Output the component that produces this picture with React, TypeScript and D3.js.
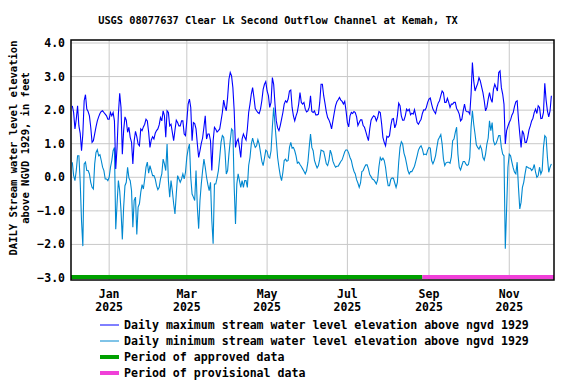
import * as d3 from "d3";

const title = "USGS 08077637 Clear Lk Second Outflow Channel at Kemah, TX";
const yLabelLines = ["DAILY Stream water level elevation", "above NGVD 1929, in feet"];

// daily values, one per day starting at firstDay
const firstDay = "2024-12-04";
const dailyMax = [
  2.13, 1.93, 1.44, 1.73, 2.13, 1.53, 1.31, 0.79, 1.29, 2.28,
  2.46, 2.03, 1.96, 1.83, 1.49, 1.04, 1.09, 1.29, 1.5, 1.68,
  1.8, 1.9, 1.96, 1.98, 1.93, 1.88, 1.83, 1.73, 1.73, 1.93,
  1.83, 1.93, 1.68, 0.25, 0.89, 1.88, 2.5, 2.08, 0.69, 1.39,
  1.8, 1.7, 1.34, 1.49, 1.19, 1.04, 0.4, 1.09, 1.37, 1.21,
  0.99, 0.94, 1.44, 1.39, 1.5, 1.58, 1.73, 1.68, 1.34, 0.89,
  1.11, 1.21, 1.14, 1.31, 1.39, 1.44, 1.56, 1.78, 1.68, 1.98,
  1.83, 1.19, 1.98, 1.93, 1.53, 1.58, 1.34, 1.09, 1.41, 1.7,
  1.63, 1.53, 1.53, 1.68, 1.68, 1.29, 1.24, 1.68, 2.18, 2.33,
  2.08, 1.09, 1.63, 1.6, 1.44, 0.99, 0.59, 0.79, 1.01, 1.17,
  1.49, 1.83, 1.14, 1.29, 1.29, 1.09, 0.2, 1.09, 1.49, 1.43,
  1.35, 1.39, 1.44, 1.68, 1.93, 2.3, 2.1, 1.98, 2.38, 2.92,
  3.12, 3.02, 2.67, 1.98, 0.89, 1.07, 1.14, 0.89, 0.59, 1.14,
  1.29, 1.19, 1.11, 1.44, 1.93, 2.18, 2.48, 2.67, 2.38, 2.05,
  1.98, 1.93, 1.9, 2.03, 2.28, 2.62, 2.77, 2.85, 2.57, 2.43,
  2.08, 2.23, 2.97, 2.77, 2.18, 1.68, 1.47, 1.39, 1.54, 1.73,
  1.93, 2.18, 2.28, 2.23, 2.33, 2.57, 2.6, 2.08, 1.83, 1.68,
  1.83, 1.95, 2.18, 2.52, 2.23, 2.18, 2.23, 2.03, 1.95, 1.98,
  2.08, 2.43, 1.96, 1.93, 1.98, 1.86, 1.86, 1.88, 2.23, 2.77,
  2.77, 2.43, 2.2, 1.95, 1.78, 1.71, 1.6, 1.44, 1.68, 1.91,
  2.13, 2.25, 2.31, 2.38, 2.3, 2.26, 2.18, 2.26, 1.98, 1.63,
  1.5, 1.83, 1.93, 1.9, 1.96, 1.93, 1.8, 1.54, 1.63, 1.71,
  1.71, 1.54, 1.49, 1.36, 1.22, 1.09, 1.44, 1.7, 1.78, 1.83,
  1.8, 1.68, 1.78, 1.96, 1.93, 1.6, 1.19, 1.04, 0.94, 1.22,
  1.19, 1.24, 1.54, 1.73, 1.75, 1.47, 1.58, 1.83, 2.21, 2.13,
  1.83, 1.7, 1.7, 1.83, 2.03, 1.98, 2.03, 1.86, 1.91, 1.88,
  2.01, 1.83, 1.63, 1.58, 1.66, 1.73, 1.9, 2.01, 2.0, 2.08,
  2.23, 2.33, 2.36, 2.18, 2.03, 1.96, 1.9, 2.08, 2.21, 2.28,
  2.43, 2.57, 2.52, 2.23, 2.23, 2.35, 2.23, 2.08, 2.18, 2.18,
  2.23, 2.23, 2.05, 1.98, 1.88, 1.68, 1.73, 1.98, 2.18, 1.98,
  1.95, 1.95, 1.88, 2.48, 3.42, 2.87, 2.57, 2.69, 2.79, 2.97,
  2.87, 2.69, 2.52, 2.28, 1.98, 2.08, 2.33, 2.52, 2.33, 2.23,
  2.62, 2.77, 2.67, 2.57, 3.12, 3.17, 2.67, 2.48, 2.18, 0.99,
  1.39, 1.52, 1.63, 1.71, 1.85, 1.93, 2.11, 2.25, 2.28, 1.73,
  1.29, 0.89, 1.39, 1.29, 1.04, 1.04, 1.19, 1.41, 1.53, 1.68,
  1.76, 1.93, 2.03, 1.9, 2.13, 2.08, 1.75, 1.76, 1.93, 2.8,
  2.3, 1.98, 1.8, 1.98, 2.43,
];
const dailyMin = [
  0.45, 0.05, -0.1, 0.2, 0.64, 0.64, -0.15, -1.3, -2.05, 0.4,
  0.45, 0.2, 0.2, 0.1, -0.15, -0.3, -0.35, 0.4, 0.74, 0.82,
  0.64, 0.67, 0.5, 0.3, 0.2, -0.05, -0.05, -0.1, 0.0, 0.3,
  0.5, 0.79, 0.89, -1.55, -0.79, -0.1, -0.4, -0.99, -1.85, -0.89,
  -0.25, -0.15, 0.3, -0.02, -0.1, -0.4, -1.49, -0.69, -0.59, -1.7,
  -0.89, -0.79, -0.45, -0.22, -0.35, -0.05, 0.3, 0.45, 0.12, 0.35,
  0.2, 0.05, 0.05, -0.05, -0.25, -0.37, -0.3, -0.05, 0.1, 0.54,
  0.4, 0.2, 0.99, -0.1, -0.59, -0.1, -0.4, -0.79, -1.09, -0.5,
  0.05, -0.05, -0.15, -0.05, 0.1, -0.05, 0.15, 0.6, 0.84, 0.99,
  0.0, -0.5, -0.59, -0.69, 0.2, -0.89, -1.53, -0.69, -0.2, 0.2,
  0.54, 0.3, 0.0, -0.22, -0.4, -0.15, -1.29, -1.98, -0.2, -0.2,
  -0.02, 0.2, 0.59, 1.04, 1.24, 1.19, 0.79, 0.1, 0.2, 0.69,
  1.09, 1.44, 1.39, -0.3, -1.39, -0.2, 0.1, -0.1, -0.3, -0.1,
  -0.3, -0.1, -0.1, -0.3, 0.35, 0.59, 0.99, 1.17, 1.01, 0.89,
  0.94, 1.12, 0.99, 0.74, 0.48, 0.35, 0.57, 0.81, 0.77, 0.61,
  0.57, 0.79, 1.49, 2.08, 1.58, 1.09, 0.59, 0.3, 0.05, -0.1,
  0.15, 0.5, 0.54, 0.48, 0.5, 0.89, 1.04, 0.87, 0.89, 0.79,
  0.64, 0.42, 0.45, 0.38, 0.32, 0.25, 0.18, 0.1, 0.2, 0.45,
  0.89, 1.29, 0.89, 0.79, 0.5, 0.38, 0.28, 0.35, 0.54, 0.81,
  0.79, 0.77, 0.59, 0.4, 0.35, 0.5, 0.81, 0.69, 0.48, 0.38,
  0.3, 0.33, 0.33, 0.4, 0.47, 0.52, 0.64, 0.76, 0.82, 0.81,
  0.72, 0.59, 0.5, 0.32, 0.18, 0.1, -0.07, -0.17, -0.3, -0.17,
  0.17, 0.2, 0.3, 0.37, 0.37, 0.25, 0.08, 0.02, -0.05, -0.07,
  -0.13, -0.2, -0.08, 0.32, 0.59, 0.51, 0.57, 0.5, 0.3, -0.02,
  -0.25, -0.25, -0.06, -0.02, -0.03, -0.17, -0.3, -0.15, 0.45, 0.89,
  1.06, 0.99, 0.72, 0.59, 0.4, 0.2, 0.1, 0.17, 0.17, 0.25,
  0.33, 0.48, 0.64, 0.81, 0.89, 0.94, 0.84, 0.67, 0.69, 0.67,
  0.81, 0.89, 0.87, 0.5, 0.4, 0.5, 0.64, 0.89, 1.12, 1.19,
  1.27, 0.99, 0.54, 0.35, 0.43, 0.45, 0.45, 0.42, 0.61, 1.09,
  1.14, 1.34, 1.49, 0.69, 0.3, 0.22, 0.35, 0.47, 0.47, 0.4,
  0.35, 0.38, 0.59, 1.49, 1.98, 1.58, 1.29, 0.97, 0.89, 0.84,
  0.94, 0.84, 0.59, 0.51, 0.69, 0.99, 1.17, 1.68, 1.39, 1.63,
  1.09, 0.97, 1.01, 1.12, 1.24, 1.24, 0.89, 0.69, 0.64, -2.13,
  -0.94, 0.3, 0.69, 0.64, 0.45, 0.28, 0.15, 0.1, 0.45, -0.3,
  -0.94, -0.74, -0.3, -0.15, 0.1, 0.32, 0.3, 0.27, 0.27, 0.2,
  0.25, 0.38, 0.15, 0.0, 0.05, 0.3, 0.1, 0.2, 0.89, 1.24,
  1.19, 0.59, 0.15, 0.3, 0.4,
];

const yTicks = [4, 3, 2, 1, 0, -1, -2, -3];
const monthTicks = ["2025-01-01", "2025-03-01", "2025-05-01", "2025-07-01", "2025-09-01", "2025-11-01"];
const axisStart = "2024-12-03";
const axisEnd = "2025-12-05";
const provisionalFrom = "2025-08-27";

const legendItems = [
  { label: "Daily maximum stream water level elevation above ngvd 1929", color: "#0000ff", width: 1 },
  { label: "Daily minimum stream water level elevation above ngvd 1929", color: "#0088d0", width: 1 },
  { label: "Period of approved data", color: "#00a000", width: 4 },
  { label: "Period of provisional data", color: "#f040d8", width: 4 },
];

const FONT = "'DejaVu Sans Mono', 'Liberation Mono', monospace";

export default function App() {
  const width = 576;
  const height = 384;
  const left = 71, right = 554, top = 40, bottom = 280;

  const parse = d3.timeParse("%Y-%m-%d");
  const start = parse(firstDay) as Date;
  const dates = dailyMax.map((_, i) => d3.timeDay.offset(start, i));

  const x = d3
    .scaleTime()
    .domain([parse(axisStart) as Date, parse(axisEnd) as Date])
    .range([left, right]);
  const y = d3.scaleLinear().domain([-3, 4]).range([278, 43]);

  const line = d3
    .line<number>()
    .x((_, i) => x(dates[i]))
    .y((d) => y(d));

  const fmt = d3.format(".1f");
  const monFmt = d3.timeFormat("%b");
  const yrFmt = d3.timeFormat("%Y");
  const splitX = x(parse(provisionalFrom) as Date);

  return (
    <svg
      width={width}
      height={height}
      style={{ position: "absolute", left: 0, top: 0, background: "#fff" }}
      fontFamily={FONT}
      fontWeight="bold"
    >
      <text x={278} y={20} dy="0.35em" textAnchor="middle" fontSize={10.3}>
        {title}
      </text>

      {/* grid */}
      {yTicks.map((t) => (
        <line key={"h" + t} x1={left} x2={right} y1={y(t)} y2={y(t)} stroke="#c8c8c8" strokeWidth={1} />
      ))}
      {monthTicks.map((m) => {
        const xm = x(parse(m) as Date);
        return <line key={"v" + m} x1={xm} x2={xm} y1={top} y2={bottom} stroke="#c8c8c8" strokeWidth={1} />;
      })}

      {/* series */}
      <path d={line(dailyMin) || ""} fill="none" stroke="#0088d0" strokeWidth={1.1} />
      <path d={line(dailyMax) || ""} fill="none" stroke="#0000ff" strokeWidth={1.1} />

      {/* approval status bar */}
      <rect x={left} y={275} width={splitX - left} height={4} fill="#00a000" />
      <rect x={splitX} y={275} width={right - splitX} height={4} fill="#f040d8" />

      {/* frame */}
      <rect x={left} y={top} width={right - left} height={bottom - top} fill="none" stroke="#000" strokeWidth={1.5} />

      {/* y ticks */}
      {yTicks.map((t) => (
        <text key={"yl" + t} x={65} y={y(t)} dy="0.35em" textAnchor="end" fontSize={11.5}>
          {fmt(t)}
        </text>
      ))}

      {/* x ticks */}
      {monthTicks.map((m) => {
        const d = parse(m) as Date;
        return (
          <g key={"xl" + m} transform={`translate(${x(d)},0)`}>
            <text y={298} textAnchor="middle" fontSize={11.5}>{monFmt(d)}</text>
            <text y={311} textAnchor="middle" fontSize={11.5}>{yrFmt(d)}</text>
          </g>
        );
      })}

      {/* y label */}
      {yLabelLines.map((l, i) => (
        <text
          key={l}
          transform={`translate(${13 + i * 12},148) rotate(-90)`}
          dy="0.35em"
          textAnchor="middle"
          fontSize={10.5}
        >
          {l}
        </text>
      ))}

      {/* legend */}
      {legendItems.map((it, i) => {
        const ly = 325 + i * 16;
        return (
          <g key={it.label}>
            <line x1={100} x2={119} y1={ly} y2={ly} stroke={it.color} strokeWidth={it.width} />
            <text x={124} y={ly} dy="0.35em" fontSize={11.6}>
              {it.label}
            </text>
          </g>
        );
      })}
    </svg>
  );
}
